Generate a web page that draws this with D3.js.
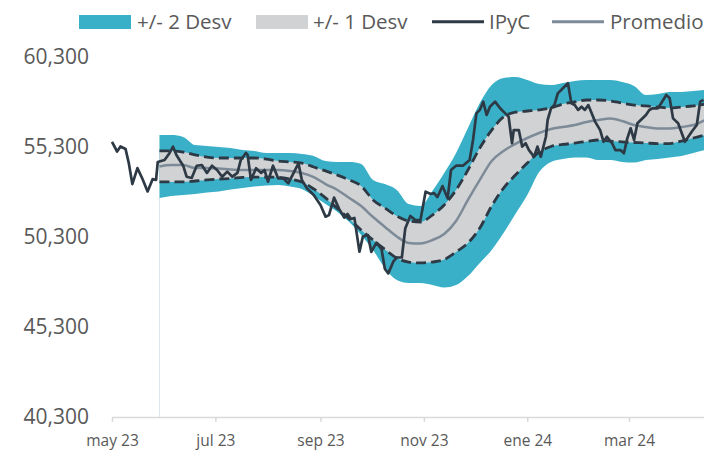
<!DOCTYPE html>
<html>
<head>
<meta charset="utf-8">
<script src="https://cdn.jsdelivr.net/npm/d3@7"></script>
<style>
	body { margin: 0; background: #fff; }
	text { font-family: "Open Sans", sans-serif; fill: #595959; }
</style>
</head>
<body>
<div id="chart"></div>
<script>
// bandas semanales (promedio y desviaciones)
var bandDates = ["2023-05-29","2023-06-05","2023-06-12","2023-06-19","2023-06-26","2023-07-03","2023-07-10","2023-07-17","2023-07-24","2023-07-31",
	"2023-08-07","2023-08-14","2023-08-21","2023-08-28","2023-09-04","2023-09-11","2023-09-18","2023-09-25","2023-10-02","2023-10-09",
	"2023-10-16","2023-10-23","2023-10-30","2023-11-06","2023-11-13","2023-11-20","2023-11-27","2023-12-04","2023-12-11","2023-12-18",
	"2023-12-25","2024-01-01","2024-01-08","2024-01-15","2024-01-22","2024-01-29","2024-02-05","2024-02-12","2024-02-19","2024-02-26",
	"2024-03-04","2024-03-11","2024-03-18","2024-03-25","2024-04-01","2024-04-08","2024-04-15"];
var upper2 = [55970,55970,55860,55410,55360,55300,55240,55130,55080,54970,54970,54970,54910,54800,54520,54470,54470,54360,53470,53240,
	52910,52130,52020,52860,53860,54970,56360,57740,58740,59130,59190,59020,58800,58740,58860,58970,59020,59020,59020,58910,
	58690,58190,58240,58360,58360,58410,58470];
var upper1 = [55080,55080,55020,54860,54740,54690,54690,54690,54690,54630,54520,54470,54410,54190,53970,53740,53470,53130,52360,51910,
	51470,51190,51130,51520,52080,52910,54020,55240,56240,56970,57240,57300,57360,57470,57690,57800,57910,57910,57860,57740,
	57630,57580,57520,57470,57520,57580,57690];
var promedio = [54220,54300,54300,54130,54130,54110,54050,54020,54020,54020,54020,53970,53860,53630,53240,52910,52470,52020,51410,50860,
	50330,49970,49940,50130,50470,51190,52360,53470,54520,55080,55470,55800,56080,56300,56410,56520,56690,56800,56880,56740,
	56520,56410,56330,56330,56410,56520,56800];
var lower1 = [53360,53360,53360,53410,53470,53520,53550,53610,53630,53630,53610,53520,53360,52970,52470,51880,51300,50690,50130,49610,
	49130,48910,48860,48910,49050,49470,49970,50800,52020,53020,53740,54410,55020,55330,55440,55520,55610,55690,55630,55580,
	55550,55520,55490,55490,55630,55800,55970];
var lower2 = [52470,52580,52630,52690,52770,52830,52940,53020,53110,53160,53190,53110,52970,52580,52130,51690,51130,50410,49580,48580,
	47910,47740,47740,47630,47490,47630,48130,48860,49580,50520,51580,52630,53910,54470,54630,54720,54720,54580,54580,54470,
	54440,54580,54630,54720,54800,54970,55130];

// IPyC
var ipycDates = ["2023-05-01","2023-05-04","2023-05-06","2023-05-09","2023-05-11","2023-05-13","2023-05-16","2023-05-19","2023-05-22","2023-05-25",
	"2023-05-27","2023-05-28","2023-06-01","2023-06-04","2023-06-06","2023-06-08","2023-06-12","2023-06-14","2023-06-17","2023-06-20",
	"2023-06-23","2023-06-26","2023-06-29","2023-07-02","2023-07-05","2023-07-08","2023-07-11","2023-07-14","2023-07-16","2023-07-19",
	"2023-07-20","2023-07-22","2023-07-25","2023-07-28","2023-07-30","2023-08-01","2023-08-04","2023-08-07","2023-08-10","2023-08-13",
	"2023-08-16","2023-08-19","2023-08-21","2023-08-24","2023-08-28","2023-09-01","2023-09-04","2023-09-06","2023-09-09","2023-09-12",
	"2023-09-15","2023-09-17","2023-09-19","2023-09-21","2023-09-24","2023-09-26","2023-09-29","2023-10-01","2023-10-04","2023-10-07",
	"2023-10-09","2023-10-11","2023-10-14","2023-10-16","2023-10-19","2023-10-21","2023-10-24","2023-10-27","2023-10-30","2023-11-02",
	"2023-11-05","2023-11-07","2023-11-09","2023-11-12","2023-11-15","2023-11-17","2023-11-20","2023-11-24","2023-11-28","2023-11-30",
	"2023-12-02","2023-12-04","2023-12-06","2023-12-08","2023-12-10","2023-12-13","2023-12-16","2023-12-19","2023-12-21","2023-12-23",
	"2023-12-24","2023-12-27","2023-12-29","2023-12-31","2024-01-02","2024-01-05","2024-01-07","2024-01-09","2024-01-12","2024-01-13",
	"2024-01-15","2024-01-17","2024-01-19","2024-01-22","2024-01-25","2024-01-27","2024-01-29","2024-01-31","2024-02-02","2024-02-04",
	"2024-02-06","2024-02-08","2024-02-10","2024-02-13","2024-02-15","2024-02-17","2024-02-20","2024-02-22","2024-02-25","2024-02-27",
	"2024-02-29","2024-03-02","2024-03-04","2024-03-06","2024-03-11","2024-03-13","2024-03-15","2024-03-18","2024-03-20","2024-03-23",
	"2024-03-25","2024-03-27","2024-03-30","2024-04-03","2024-04-07","2024-04-10","2024-04-12","2024-04-14"];
var ipycValues = [55580,55050,55330,55190,54360,53240,54130,53520,52830,53520,
	53470,54470,54580,54970,55320,54860,54260,53650,53580,54260,
	54300,53860,54260,54020,53650,53930,53650,53860,54580,54970,
	54860,53470,54120,53860,54020,53370,54260,53560,53560,53280,
	53840,54390,53470,53010,52630,52080,51430,51520,52490,51860,
	51380,51580,51300,51360,49480,50320,50410,49470,49990,49630,
	48520,48280,48940,49160,49160,50770,51470,51240,51240,52820,
	52690,52740,52520,53130,52450,54020,54260,54260,54580,55690,
	57170,57360,57820,57080,57540,57820,57450,57170,56980,55510,
	56240,56240,55320,55510,55130,54760,55320,54760,55870,56800,
	57450,57630,58280,58560,58840,57730,57630,57360,57540,57360,
	57630,57170,56710,56240,55590,55870,55510,55130,55130,54950,
	55780,56340,55690,56620,57080,57360,57450,57450,57730,58190,
	58010,56890,56620,55590,56150,56520,57820,57910];

var yTicks = [40300, 45300, 50300, 55300, 60300];
var xTickDates = ["2023-05-01","2023-07-01","2023-09-01","2023-11-01","2024-01-01","2024-03-01"];
var xTickLabels = ["may 23","jul 23","sep 23","nov 23","ene 24","mar 24"];
var legendLabels = ["+/- 2 Desv", "+/- 1 Desv", "IPyC", "Promedio"];

var azul = "#3ab0c8", gris = "#d1d2d4", oscuro = "#2d3945", promColor = "#7d8a97";
var width = 704, height = 450;
var parse = d3.timeParse("%Y-%m-%d");

var svg = d3.select("#chart").append("svg").attr("width", width).attr("height", height);

var x = d3.scaleTime()
	.domain([parse("2023-05-01"), parse("2024-04-15")])
	.range([112, 705.25]);
var y = d3.scaleLinear()
	.domain([40300, 60300])
	.range([417, 57]);

var bands = bandDates.map(function(d, i){
	return { date: parse(d), u2: upper2[i], u1: upper1[i], m: promedio[i], l1: lower1[i], l2: lower2[i] };
});
var ipyc = ipycDates.map(function(d, i){ return { date: parse(d), v: ipycValues[i] }; });

var curve = d3.curveMonotoneX;

// linea vertical de inicio de bandas
svg.append("line")
	.attr("x1", x(bands[0].date)).attr("x2", x(bands[0].date))
	.attr("y1", y(bands[0].l2)).attr("y2", y(40300))
	.attr("stroke", "#dce6ef").attr("stroke-width", 1);

svg.append("path")
	.attr("d", d3.area().x(function(d){ return x(d.date); })
		.y0(function(d){ return y(d.l2); }).y1(function(d){ return y(d.u2); }).curve(curve)(bands))
	.attr("fill", azul);

svg.append("path")
	.attr("d", d3.area().x(function(d){ return x(d.date); })
		.y0(function(d){ return y(d.l1); }).y1(function(d){ return y(d.u1); }).curve(curve)(bands))
	.attr("fill", gris);

["u1", "l1"].forEach(function(k){
	svg.append("path")
		.attr("d", d3.line().x(function(d){ return x(d.date); }).y(function(d){ return y(d[k]); }).curve(curve)(bands))
		.attr("fill", "none")
		.attr("stroke", oscuro)
		.attr("stroke-width", 2.8)
		.attr("stroke-dasharray", "10,5");
});

svg.append("path")
	.attr("d", d3.line().x(function(d){ return x(d.date); }).y(function(d){ return y(d.m); }).curve(curve)(bands))
	.attr("fill", "none")
	.attr("stroke", promColor)
	.attr("stroke-width", 2.5);

svg.append("path")
	.attr("d", d3.line().x(function(d){ return x(d.date); }).y(function(d){ return y(d.v); })(ipyc))
	.attr("fill", "none")
	.attr("stroke", oscuro)
	.attr("stroke-width", 2.7)
	.attr("stroke-linejoin", "round");

// eje x
var xAxis = d3.axisBottom(x)
	.tickValues(xTickDates.map(parse))
	.tickSize(5)
	.tickFormat(function(d, i){ return xTickLabels[i]; });
var gx = svg.append("g").attr("transform", "translate(0," + y(40300) + ")").call(xAxis);
gx.select(".domain").attr("d", "M112,0.5H704").attr("stroke", "#d9d9d9").attr("stroke-width", 1.5);
gx.selectAll(".tick line").attr("stroke", "#d9d9d9").attr("stroke-width", 1.5);
gx.selectAll(".tick text").attr("y", 18).attr("font-size", "15.5px").attr("fill", "#595959")
	.style("font-family", "'Open Sans', sans-serif");

// etiquetas eje y
svg.selectAll(".ylab").data(yTicks).enter().append("text")
	.attr("class", "ylab")
	.attr("x", 89)
	.attr("y", function(d){ return y(d) + 6.5; })
	.attr("text-anchor", "end")
	.attr("font-size", "21px")
	.text(function(d){ return d3.format(",")(d); });

// leyenda
var legend = svg.append("g");
legend.append("rect").attr("x", 79).attr("y", 15).attr("width", 52).attr("height", 14).attr("fill", azul);
legend.append("rect").attr("x", 256).attr("y", 15).attr("width", 52).attr("height", 14).attr("fill", gris);
legend.append("line").attr("x1", 432).attr("x2", 484).attr("y1", 21.7).attr("y2", 21.7)
	.attr("stroke", oscuro).attr("stroke-width", 3);
legend.append("line").attr("x1", 552).attr("x2", 604).attr("y1", 21.7).attr("y2", 21.7)
	.attr("stroke", promColor).attr("stroke-width", 3);
var legendX = [137, 313, 489, 610];
legend.selectAll("text").data(legendLabels).enter().append("text")
	.attr("x", function(d, i){ return legendX[i]; })
	.attr("y", 29)
	.attr("font-size", "20.5px")
	.text(function(d){ return d; });
</script>
</body>
</html>
